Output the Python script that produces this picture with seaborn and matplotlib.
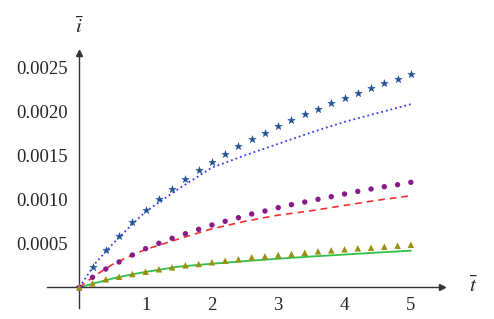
import numpy as np
import pandas as pd
import seaborn as sns
import matplotlib
matplotlib.use("Agg")
import matplotlib.pyplot as plt
from matplotlib.ticker import MultipleLocator, FuncFormatter

# sampled points (markers), t = 0, 0.2, ..., 5
t_pts = [0.0, 0.2, 0.4, 0.6, 0.8, 1.0, 1.2, 1.4, 1.6, 1.8, 2.0, 2.2, 2.4,
         2.6, 2.8, 3.0, 3.2, 3.4, 3.6, 3.8, 4.0, 4.2, 4.4, 4.6, 4.8, 5.0]
stars = [0, 0.000227, 0.000424, 0.000583, 0.000746, 0.000878, 0.001003, 0.00112,
         0.00123, 0.001333, 0.001427, 0.001515, 0.0016, 0.00168, 0.001757, 0.00183,
         0.001901, 0.001966, 0.00203, 0.00209, 0.002151, 0.002208, 0.002265,
         0.002318, 0.00237, 0.002424]
dots = [0, 0.000114, 0.000208, 0.000288, 0.000367, 0.000439, 0.0005, 0.000557,
        0.000609, 0.000659, 0.000708, 0.00075, 0.000791, 0.000833, 0.000867,
        0.000905, 0.000939, 0.000969, 0.001, 0.00103, 0.00106, 0.00109, 0.001117,
        0.001143, 0.001166, 0.001193]
triangles = [0, 0.000045, 0.000091, 0.00012, 0.000151, 0.000177, 0.000205, 0.000227,
             0.00025, 0.000265, 0.000284, 0.000302, 0.000318, 0.000341, 0.000352,
             0.000367, 0.000378, 0.000393, 0.000409, 0.00042, 0.000432, 0.000443,
             0.00045, 0.000461, 0.000473, 0.000484]

# model curves
t_line = [0, 0.25, 0.5, 0.75, 1.0, 1.5, 2.0, 2.5, 3.0, 3.5, 4.0, 4.5, 5.0]
blue_line = [0, 0.00028, 0.00049, 0.00068, 0.00086, 0.00112, 0.00136, 0.0015,
             0.00163, 0.00176, 0.00188, 0.00198, 0.00208]
red_line = [0, 0.00014, 0.00026, 0.00035, 0.00043, 0.00055, 0.000665, 0.00075,
            0.00082, 0.00087, 0.00093, 0.00099, 0.00104]
green_line = [0, 0.00005, 0.0001, 0.00014, 0.000175, 0.000235, 0.000268, 0.000298,
              0.000325, 0.00035, 0.000372, 0.000395, 0.000416]

sns.set_style("white")
plt.rcParams['font.family'] = ['Liberation Serif', 'DejaVu Serif']
plt.rcParams['mathtext.fontset'] = 'stix'

fig = plt.figure(figsize=(4.94, 3.19), dpi=100)
W, H = 494, 319
x0px, x1px = 47, 442
ytop, ybot = 53, 308
ax = fig.add_axes([x0px / W, 1 - ybot / H, (x1px - x0px) / W, (ybot - ytop) / H])

sns.lineplot(x=t_line, y=blue_line, ax=ax, color='#3a3af5', linestyle=':', lw=1.3)
sns.lineplot(x=t_line, y=red_line, ax=ax, color='#f23030', linestyle=(0, (4, 3)), lw=1.2)
sns.lineplot(x=t_line, y=green_line, ax=ax, color='#2fbf45', linestyle='-', lw=1.3)

sns.scatterplot(x=t_pts, y=stars, ax=ax, marker='*', color='#1f5394', s=32,
                edgecolor='#1f5394', linewidth=0.3, zorder=5)
sns.scatterplot(x=t_pts, y=dots, ax=ax, marker='o', color='#8a1a8a', s=15,
                edgecolor='none', zorder=5)
sns.scatterplot(x=t_pts, y=triangles, ax=ax, marker='^', color='#9b9010', s=22,
                edgecolor='none', zorder=5)

ax.set_xlim(-0.487, 5.47)
ax.set_ylim(-0.000235, 0.002662)

for side in ['top', 'right']:
    ax.spines[side].set_visible(False)
ax.spines['left'].set_position(('data', 0))
ax.spines['bottom'].set_position(('data', 0))
for side in ['left', 'bottom']:
    ax.spines[side].set_color('#333333')
    ax.spines[side].set_linewidth(1.0)

ax.xaxis.set_major_locator(MultipleLocator(1))
ax.xaxis.set_minor_locator(MultipleLocator(0.5))
ax.yaxis.set_major_locator(MultipleLocator(0.0005))
ax.yaxis.set_minor_locator(MultipleLocator(0.00025))
ax.xaxis.set_major_formatter(FuncFormatter(lambda v, p: '' if abs(v) < 1e-9 or v < 0 else f'{v:g}'))
ax.yaxis.set_major_formatter(FuncFormatter(lambda v, p: '' if abs(v) < 1e-9 or v < 0 else f'{v:.4f}'))
ax.tick_params(axis='both', which='major', direction='inout', length=6, width=0.9,
               color='#444444', labelsize=13.5, pad=5)
ax.tick_params(axis='both', which='minor', direction='inout', length=4, width=0.8,
               color='#555555')
ax.tick_params(axis='x', which='major', pad=4)

# arrow heads
ax.plot(1, 0, '>', color='#333333', ms=4, transform=ax.get_yaxis_transform(), clip_on=False)
ax.plot(0, 1, '^', color='#333333', ms=4, transform=ax.get_xaxis_transform(), clip_on=False)

fig.text(79 / W, 1 - 28 / H, r'$\bar{i}$', fontsize=15, ha='center', va='center')
fig.text(473 / W, 1 - 287 / H, r'$\bar{t}$', fontsize=15, ha='center', va='center')

fig.savefig('out.png', dpi=100)
